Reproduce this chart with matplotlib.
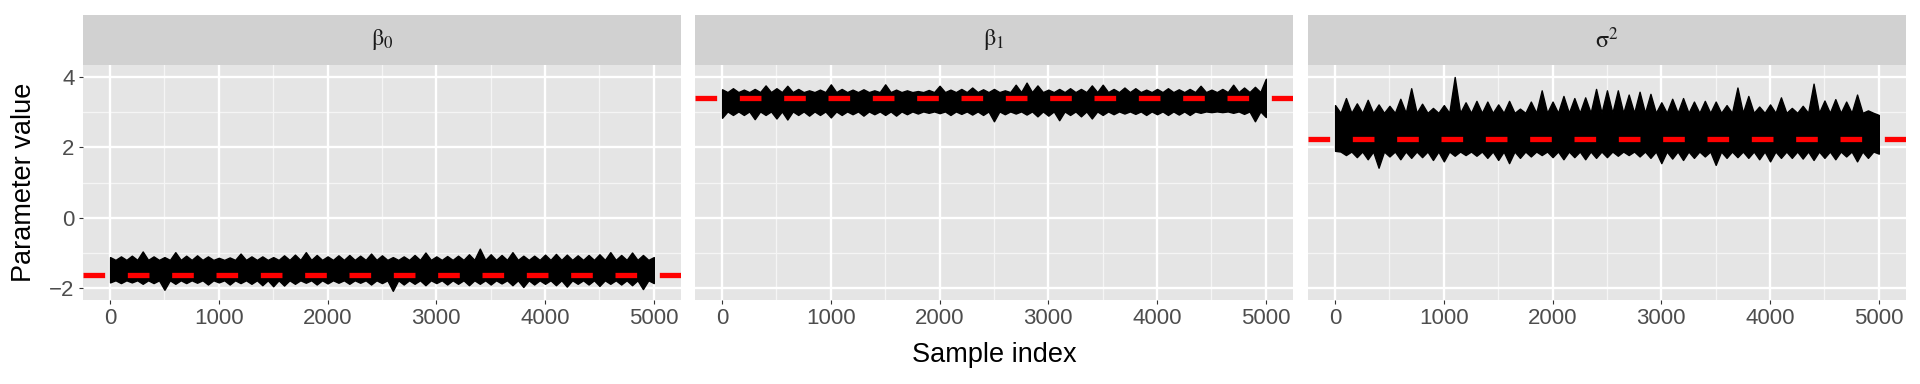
import numpy as np
import matplotlib
matplotlib.use("Agg")
import matplotlib.pyplot as plt

# 读取自参考图的轨迹包络（每 100 个样本一个读数）
sample_idx = np.arange(0, 5001, 100)

params = ["beta0", "beta1", "sigma2"]
strip_labels = [r"$\mathrm{\beta}_0$", r"$\mathrm{\beta}_1$", r"$\mathrm{\sigma}^2$"]
post_means = [-1.62, 3.40, 2.25]
# 轨迹主体（密集部分）的上下边
body_top = [-1.20, 3.57, 2.98]
body_bottom = [-1.78, 3.02, 1.88]

beta0_upper = [-1.12, -1.10, -1.08, -0.96, -1.10, -1.12, -0.98, -1.08, -1.07, -1.10,
               -1.14, -1.13, -1.02, -1.10, -1.10, -1.12, -1.07, -1.05, -0.98, -1.06,
               -1.10, -1.07, -1.06, -1.08, -1.02, -1.07, -1.12, -1.10, -1.06, -0.99,
               -1.10, -1.09, -1.08, -1.04, -0.88, -1.04, -1.06, -0.98, -1.08, -1.08,
               -1.05, -1.03, -1.05, -1.07, -1.06, -1.04, -0.98, -1.06, -0.99, -1.06,
               -1.12]
beta0_lower = [-1.84, -1.86, -1.84, -1.88, -1.86, -2.05, -1.88, -1.86, -1.85, -1.90,
               -1.84, -1.90, -1.86, -1.88, -1.92, -1.95, -1.93, -1.88, -1.85, -1.90,
               -1.87, -1.85, -1.88, -1.85, -1.90, -1.86, -2.08, -1.90, -1.88, -1.92,
               -1.86, -1.90, -1.88, -1.92, -1.88, -1.90, -1.87, -1.92, -1.97, -1.90,
               -1.88, -1.92, -1.96, -1.88, -1.90, -1.94, -1.88, -1.90, -1.92, -2.03,
               -1.86]

beta1_upper = [3.65, 3.68, 3.64, 3.66, 3.76, 3.68, 3.75, 3.66, 3.62, 3.64,
               3.79, 3.66, 3.64, 3.65, 3.62, 3.79, 3.64, 3.62, 3.60, 3.63,
               3.75, 3.64, 3.66, 3.70, 3.65, 3.66, 3.62, 3.78, 3.84, 3.76,
               3.64, 3.66, 3.68, 3.66, 3.76, 3.78, 3.66, 3.70, 3.68, 3.64,
               3.66, 3.68, 3.65, 3.66, 3.75, 3.64, 3.66, 3.78, 3.70, 3.72,
               3.95]
beta1_lower = [2.84, 2.92, 2.92, 2.80, 2.92, 2.82, 2.79, 2.92, 2.90, 2.92,
               2.85, 2.92, 2.94, 2.90, 2.94, 2.92, 2.90, 2.94, 2.96, 2.98,
               2.97, 2.92, 2.95, 2.93, 2.92, 2.74, 2.94, 2.96, 2.93, 2.88,
               2.90, 2.77, 2.92, 2.88, 2.82, 2.92, 2.94, 2.96, 2.95, 2.92,
               2.94, 2.92, 2.93, 2.92, 2.98, 3.00, 3.00, 2.98, 2.95, 2.74,
               2.86]

sigma2_upper = [3.20, 3.40, 3.25, 3.35, 3.22, 3.18, 3.38, 3.68, 3.24, 3.12,
                3.20, 4.00, 3.28, 3.32, 3.30, 3.22, 3.32, 3.10, 3.30, 3.62,
                3.30, 3.46, 3.40, 3.42, 3.66, 3.62, 3.62, 3.50, 3.58, 3.52,
                3.28, 3.38, 3.40, 3.30, 3.32, 3.30, 3.20, 3.70, 3.46, 3.16,
                3.22, 3.42, 3.12, 3.18, 3.81, 3.33, 3.37, 3.30, 3.50, 3.05,
                2.92]
sigma2_lower = [1.90, 1.78, 1.72, 1.66, 1.42, 1.74, 1.66, 1.70, 1.72, 1.64,
                1.60, 1.76, 1.78, 1.76, 1.70, 1.64, 1.55, 1.70, 1.74, 1.78,
                1.72, 1.66, 1.72, 1.66, 1.70, 1.72, 1.76, 1.78, 1.74, 1.70,
                1.55, 1.68, 1.64, 1.70, 1.74, 1.50, 1.70, 1.72, 1.70, 1.66,
                1.60, 1.70, 1.70, 1.68, 1.64, 1.70, 1.66, 1.74, 1.60, 1.70,
                1.82]

uppers = [beta0_upper, beta1_upper, sigma2_upper]
lowers = [beta0_lower, beta1_lower, sigma2_lower]

x_ticks = [0, 1000, 2000, 3000, 4000, 5000]
x_minor = [500, 1500, 2500, 3500, 4500]
y_ticks = [-2, 0, 2, 4]
y_minor = [-1, 1, 3]


def sawtooth(edge, body):
    """包络读数之间回落到主体边缘，得到尖刺状边界"""
    xs, ys = [], []
    for k, s in enumerate(sample_idx):
        xs.append(s)
        ys.append(edge[k])
        if k < len(sample_idx) - 1:
            xs.append(s + 50)
            ys.append(body)
    return np.array(xs), np.array(ys)


plt.rcParams['font.family'] = ['Liberation Sans', 'DejaVu Sans']
plt.rcParams['mathtext.fontset'] = 'stix'

W, H = 1920, 384
fig = plt.figure(figsize=(W / 100, H / 100), dpi=100)

panel_left = [83, 695, 1308]
panel_w = 598
top_px, strip_px, bottom_px = 15, 65, 300

for i in range(3):
    l = panel_left[i] / W
    w = panel_w / W
    b = 1 - bottom_px / H
    h = (bottom_px - strip_px) / H
    ax = fig.add_axes([l, b, w, h])
    ax.set_facecolor("#E5E5E5")

    # 网格
    for v in y_minor:
        ax.axhline(v, color="#F5F5F5", lw=0.9, zorder=0.5)
    for v in x_minor:
        ax.axvline(v, color="#F5F5F5", lw=0.9, zorder=0.5)
    for v in y_ticks:
        ax.axhline(v, color="white", lw=1.7, zorder=0.6)
    for v in x_ticks:
        ax.axvline(v, color="white", lw=1.7, zorder=0.6)

    # 轨迹
    xu, yu = sawtooth(uppers[i], body_top[i])
    xl, yl = sawtooth(lowers[i], body_bottom[i])
    ax.fill_between(xu, yl, yu, color="black", lw=1.0, edgecolor="black", zorder=2)
    ax.axhline(post_means[i], color="red", lw=3.8, dashes=(4.1, 4.3), zorder=3)

    ax.set_xlim(-249, 5250)
    ax.set_ylim(-2.34, 4.34)
    ax.set_xticks(x_ticks)
    ax.set_yticks(y_ticks)
    ax.tick_params(axis="both", length=3, width=0.8, color="#333333",
                   labelcolor="#4D4D4D", labelsize=16, pad=3)
    if i > 0:
        ax.tick_params(axis="y", length=0, labelleft=False)
    for s in ax.spines.values():
        s.set_visible(False)

    # 分面标题
    sax = fig.add_axes([l, 1 - strip_px / H, w, (strip_px - top_px) / H])
    sax.set_facecolor("#D1D1D1")
    sax.set_xticks([])
    sax.set_yticks([])
    for s in sax.spines.values():
        s.set_visible(False)
    sax.text(0.5, 0.5, strip_labels[i], ha="center", va="center",
             fontsize=17.5, color="#1A1A1A", transform=sax.transAxes)

fig.text((83 + 1905) / 2 / W, 1 - 355 / H, "Sample index", ha="center",
         va="center", fontsize=19.5, color="black")
fig.text(24 / W, 1 - 182 / H, "Parameter value", ha="center", va="center",
         rotation=90, fontsize=19.5, color="black")

fig.savefig("out.png", dpi=100, facecolor="white")
